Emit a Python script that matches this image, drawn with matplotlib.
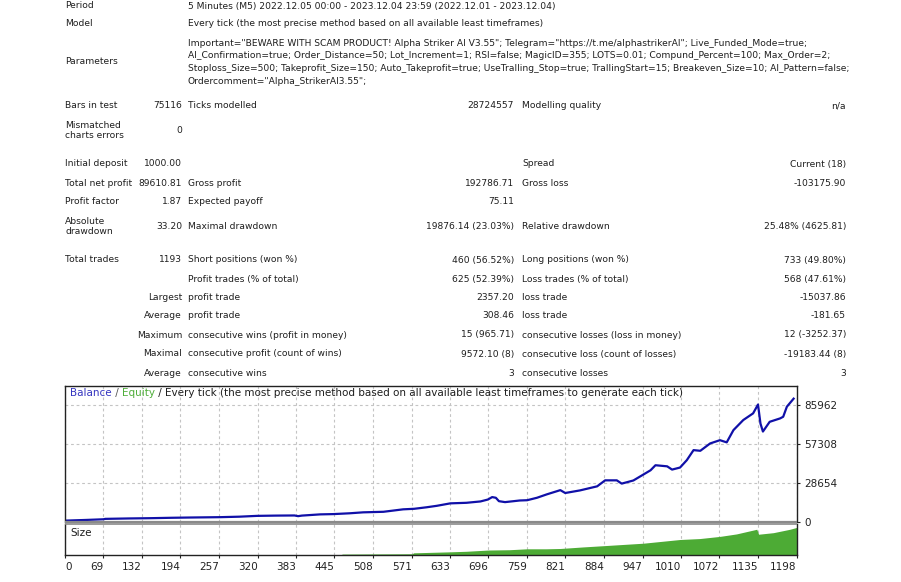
import matplotlib
matplotlib.use("Agg")
import matplotlib.pyplot as plt
import numpy as np

plt.rcParams['font.family'] = ['DejaVu Sans']

# ---- report table ----------------------------------------------------------
period = "5 Minutes (M5) 2022.12.05 00:00 - 2023.12.04 23:59 (2022.12.01 - 2023.12.04)"
model = "Every tick (the most precise method based on all available least timeframes)"
parameters = [
    'Important="BEWARE WITH SCAM PRODUCT! Alpha Striker AI V3.55"; Telegram="https://t.me/alphastrikerAI"; Live_Funded_Mode=true;',
    'AI_Confirmation=true; Order_Distance=50; Lot_Increment=1; RSI=false; MagicID=355; LOTS=0.01; Compund_Percent=100; Max_Order=2;',
    'Stoploss_Size=500; Takeprofit_Size=150; Auto_Takeprofit=true; UseTralling_Stop=true; TrallingStart=15; Breakeven_Size=10; AI_Pattern=false;',
    'Ordercomment="Alpha_StrikerAI3.55";',
]

# (label, value, label, value, label, value)
rows = [
    ("Bars in test", "75116", "Ticks modelled", "28724557", "Modelling quality", "n/a"),
    ("Mismatched\ncharts errors", "0", "", "", "", ""),
    ("Initial deposit", "1000.00", "", "", "Spread", "Current (18)"),
    ("Total net profit", "89610.81", "Gross profit", "192786.71", "Gross loss", "-103175.90"),
    ("Profit factor", "1.87", "Expected payoff", "75.11", "", ""),
    ("Absolute\ndrawdown", "33.20", "Maximal drawdown", "19876.14 (23.03%)", "Relative drawdown", "25.48% (4625.81)"),
    ("Total trades", "1193", "Short positions (won %)", "460 (56.52%)", "Long positions (won %)", "733 (49.80%)"),
    ("", "", "Profit trades (% of total)", "625 (52.39%)", "Loss trades (% of total)", "568 (47.61%)"),
    ("", "Largest", "profit trade", "2357.20", "loss trade", "-15037.86"),
    ("", "Average", "profit trade", "308.46", "loss trade", "-181.65"),
    ("", "Maximum", "consecutive wins (profit in money)", "15 (965.71)", "consecutive losses (loss in money)", "12 (-3252.37)"),
    ("", "Maximal", "consecutive profit (count of wins)", "9572.10 (8)", "consecutive loss (count of losses)", "-19183.44 (8)"),
    ("", "Average", "consecutive wins", "3", "consecutive losses", "3"),
]
row_y = [106, 130.5, 164, 183, 202, 226.5, 260, 279, 298, 316, 335, 354, 373]

# ---- graph data (trade number, balance) -----------------------------------
trade_no = [6, 40, 69, 72, 110, 145, 180, 211, 240, 259, 290, 319, 350, 380, 386,
            392, 422, 443, 470, 492, 525, 557, 575, 595, 612, 634, 660, 683, 695,
            702, 708, 713, 723, 747, 759, 775, 791, 813, 821, 845, 873, 886, 905,
            913, 932, 960, 968, 987, 995, 1008, 1019, 1030, 1041, 1057, 1073, 1084,
            1095, 1111, 1127, 1135, 1139, 1143, 1154, 1171, 1176, 1182, 1193]
balance = [1000, 1500, 2000, 2300, 2600, 2800, 3100, 3300, 3450, 3550, 3900, 4500,
           4700, 4800, 4300, 4700, 5600, 5800, 6400, 7100, 7500, 9300, 9700, 10800,
           11900, 13700, 14100, 15100, 16500, 18300, 17800, 15300, 14600, 15800,
           16000, 17800, 20300, 23400, 21300, 23200, 26200, 30600, 30600, 28200,
           30500, 38000, 41700, 40900, 38500, 40000, 45400, 52800, 52300, 57700,
           60100, 58500, 67500, 74900, 79800, 86300, 72300, 66450, 73600, 76100,
           77300, 84700, 90610]

size_trade = [6, 456, 458, 572, 574, 630, 660, 696, 730, 759, 790, 813, 850, 883,
              948, 1008, 1040, 1073, 1100, 1133, 1136, 1160, 1187, 1198]
size_lots = [0.01, 0.01, 0.03, 0.04, 0.07, 0.10, 0.12, 0.16, 0.17, 0.20, 0.20, 0.21,
             0.26, 0.30, 0.38, 0.50, 0.53, 0.60, 0.68, 0.83, 0.67, 0.72, 0.83, 0.89]

x_tick_labels = ["0", "69", "132", "194", "257", "320", "383", "445", "508", "571",
                 "633", "696", "759", "821", "884", "947", "1010", "1072", "1135", "1198"]
y_ticks = [0, 28654, 57308, 85962]

W, H = 901, 582
fig = plt.figure(figsize=(W / 100, H / 100), dpi=100)
txt = '#1e1e1e'
fs = 6.6
gfs = 7.45


def put(x, y, s, ha='left', **kw):
    fig.text(x / W, 1 - y / H, s, ha=ha, va='center', fontsize=fs, color=txt,
             linespacing=1.2, **kw)


put(65, 6, "Period")
put(188, 6, period)
put(65, 24, "Model")
put(188, 24, model)
put(65, 62, "Parameters")
for i, line in enumerate(parameters):
    put(188, 43 + i * 12.7, line)

for y, r in zip(row_y, rows):
    put(65, y, r[0])
    put(182, y, r[1], ha='right')
    put(188, y, r[2])
    put(514, y, r[3], ha='right')
    put(522, y, r[4])
    put(846, y, r[5], ha='right')

# ---- graph -----------------------------------------------------------------
x0, x1 = 65, 797
ax = fig.add_axes([x0 / W, (H - 522) / H, (x1 - x0) / W, (522 - 386) / H])
ax2 = fig.add_axes([x0 / W, (H - 555) / H, (x1 - x0) / W, (555 - 524) / H])

x_left = 6.3
x_right = 1198.5
tick_pos = [max(float(v), x_left) for v in x_tick_labels]

grid_kw = dict(color='#c4c4c4', linestyle=(0, (2.5, 2.5)), linewidth=0.8)
for a in (ax, ax2):
    a.set_xlim(x_left, x_right)
    a.set_xticks(tick_pos)
    a.grid(axis='x', **grid_kw)
    a.set_axisbelow(True)
    for sp in a.spines.values():
        sp.set_color('#222222')
        sp.set_linewidth(1.0)

ax.plot(trade_no, balance, color='#1010a8', linewidth=1.6, solid_joinstyle='round')
ax.set_ylim(0, 99900)
ax.set_yticks(y_ticks)
ax.set_yticklabels([str(v) for v in y_ticks])
ax.grid(axis='y', **grid_kw)
ax.yaxis.tick_right()
ax.tick_params(axis='y', length=2, labelsize=gfs, colors='#222222', pad=3)
ax.tick_params(axis='x', length=0, labelbottom=False)
ax.spines['bottom'].set_color('#8a8a8a')
ax.spines['bottom'].set_linewidth(1.6)
ax.spines['bottom'].set_capstyle('butt')
ax2.spines['top'].set_color('#8a8a8a')
ax2.spines['top'].set_linewidth(1.2)
ax2.spines['top'].set_capstyle('butt')

ax2.fill_between(size_trade, size_lots, 0, color='#4dab35', linewidth=0)
ax2.set_ylim(0, 1.0)
ax2.set_yticks([])
ax2.set_xticklabels(x_tick_labels)
ax2.tick_params(axis='x', length=2, labelsize=gfs, colors='#222222', pad=3)
for i, lab in enumerate(ax2.get_xticklabels()):
    lab.set_ha('left' if i == 0 else 'right')
ax2.text(0.007, 0.7, "Size", transform=ax2.transAxes, fontsize=gfs, color=txt,
         va='center', ha='left')

# legend line at the top of the graph
t1 = ax.text(0.007, 0.915, "Balance", transform=ax.transAxes, fontsize=gfs,
             color='#3535c0', va='bottom', ha='left')
t2 = ax.annotate(" / ", xy=(1, 0), xycoords=t1, fontsize=gfs, color='#555555',
                 va='bottom', ha='left')
t3 = ax.annotate("Equity", xy=(1, 0), xycoords=t2, fontsize=gfs, color='#4fae3a',
                 va='bottom', ha='left')
ax.annotate(" / Every tick (the most precise method based on all available least timeframes to generate each tick)",
            xy=(1, 0), xycoords=t3, fontsize=gfs, color=txt, va='bottom', ha='left')

fig.savefig('out.png', dpi=100)
